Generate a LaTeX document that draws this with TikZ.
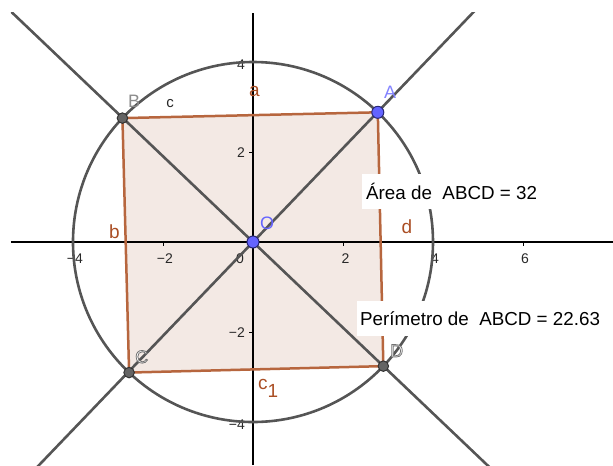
\documentclass[tikz,border=0pt]{standalone}
\usepackage{fontspec}
\setmainfont{Liberation Sans}
\definecolor{edgec}{RGB}{183,102,62}
\definecolor{fillc}{RGB}{243,233,228}
\definecolor{lblc}{RGB}{170,78,36}
\definecolor{glinec}{RGB}{85,85,85}
\definecolor{ptbluec}{RGB}{100,100,255}
\definecolor{ptbluedark}{RGB}{40,40,120}
\definecolor{ptgrayc}{RGB}{100,100,100}
\definecolor{ticklc}{RGB}{40,40,40}
\newcommand{\halotxt}[1]{\special{pdf:literal direct q 2 Tr 0.45 G 0.8 w}#1\special{pdf:literal direct Q}}
\begin{document}
\begin{tikzpicture}[x=45pt,y=45pt,
  axisline/.style={draw=black,line width=1.1pt},
  tickmark/.style={draw=black,line width=0.9pt},
  ticklabel/.style={font=\fontsize{14}{16}\selectfont,text=ticklc,inner sep=0pt,anchor=base},
  ylabel/.style={font=\fontsize{14}{16}\selectfont,text=ticklc,inner sep=0pt,anchor=base east},
  gline/.style={draw=glinec,line width=2.6pt},
  edgeline/.style={draw=edgec,line width=2.5pt,line join=round},
  bluept/.style={circle,fill=ptbluec,draw=ptbluedark,line width=1pt,minimum size=12pt,inner sep=0pt},
  graypt/.style={circle,fill=ptgrayc,draw=black!80,line width=1pt,minimum size=10.5pt,inner sep=0pt},
  seglabel/.style={font=\fontsize{19}{21}\selectfont,text=lblc,inner sep=0pt,anchor=base west},
  ptlabel/.style={font=\fontsize{18}{20}\selectfont,inner sep=0pt,anchor=base west},
  infobox/.style={fill=white,font=\fontsize{18.8}{22}\selectfont,text=black,anchor=west,inner ysep=0pt,minimum height=35pt}
]
\useasboundingbox (-5.6222,-4.9556) rectangle (8,5.3778);
% square fill
\fill[fillc] (46.2:4) -- (136.5:4) -- (226.5:4) -- (316.4:4) -- cycle;
% axes
\coordinate (xl) at (-5.378,0);
\coordinate (xr) at (8,0);
\coordinate (yt) at (0,5.089);
\coordinate (yb) at (0,-4.956);
\draw[axisline] (xl) -- (xr);
\draw[axisline] (yb) -- (yt);
\foreach \t in {-4,-2,2,4,6} \draw[tickmark] (\t,0) -- ++(0,-4pt);
\foreach \t in {-4,-2,2,4} \draw[tickmark] (0,\t) -- ++(-4pt,0);
% tick labels
\node[ticklabel] (tx1) at (-3.956,-0.467) {−4};
\node[ticklabel] (tx2) at (-1.956,-0.467) {−2};
\node[ticklabel] (tx0) at (-0.289,-0.467) {0};
\node[ticklabel] (tx3) at (2.056,-0.467) {2};
\node[ticklabel] (tx4) at (4.044,-0.467) {4};
\node[ticklabel] (tx5) at (6.044,-0.467) {6};
\node[ylabel] (ty1) at (-0.178,3.844) {4};
\node[ylabel] (ty2) at (-0.178,1.867) {2};
\node[ylabel] (ty3) at (-0.178,-2.133) {−2};
\node[ylabel] (ty4) at (-0.178,-4.156) {−4};
% circle
\coordinate (O0) at (0,0);
\draw[gline] (O0) circle (4);
% diagonal lines
\coordinate (L1a) at (46.2:9);
\coordinate (L1b) at (226.2:9);
\coordinate (L2a) at (136.4:9);
\coordinate (L2b) at (316.4:9);
\begin{scope}
\clip (-5.378,-4.956) rectangle (8,5.089);
\draw[gline] (L1b) -- (L1a);
\draw[gline] (L2a) -- (L2b);
\end{scope}
% points as coordinates
\coordinate (A) at (46.1:4);
\coordinate (B) at (136.5:4);
\coordinate (C) at (226.5:4);
\coordinate (D) at (316.4:4);
% polygon edges
\draw[edgeline] (A) -- (B) -- (C) -- (D) -- cycle;
% info boxes
\node[infobox,inner xsep=4pt] (area) at (2.422,1.122) {Área de\ \ ABCD = 32};
\node[infobox,inner xsep=3pt] (perim) at (2.311,-1.70) {Perímetro de\ \ ABCD = 22.63};
% points
\node[bluept] (Apt) at (A) {};
\node[graypt] (Bpt) at (B) {};
\node[graypt] (Cpt) at (C) {};
\node[graypt] (Dpt) at (D) {};
\node[bluept] (Opt) at (O0) {};
% segment labels
\node[seglabel] (la) at (-0.089,3.244) {a};
\node[seglabel,text=ticklc,font=\fontsize{15}{17}\selectfont] (lc) at (-1.93,2.978) {c};
\node[seglabel] (lb) at (-3.2,0.067) {b};
\node[seglabel] (ld) at (3.3,0.2) {d};
\node[seglabel] (lc1) at (0.111,-3.267) {c\raisebox{-8pt}{1}};
% point labels
\node[ptlabel,text=ptbluec!80!white] (lA) at (2.911,3.178) {A};
\node[ptlabel,text=black!45] (lB) at (-2.778,2.978) {B};
\node[ptlabel,text=ptbluec] (lO) at (0.156,0.267) {O};
\node[ptlabel,text=white] (lC) at (-2.622,-2.689) {\halotxt{C}};
\node[ptlabel,text=white] (lD) at (3.044,-2.556) {\halotxt{D}};
\end{tikzpicture}
\end{document}
